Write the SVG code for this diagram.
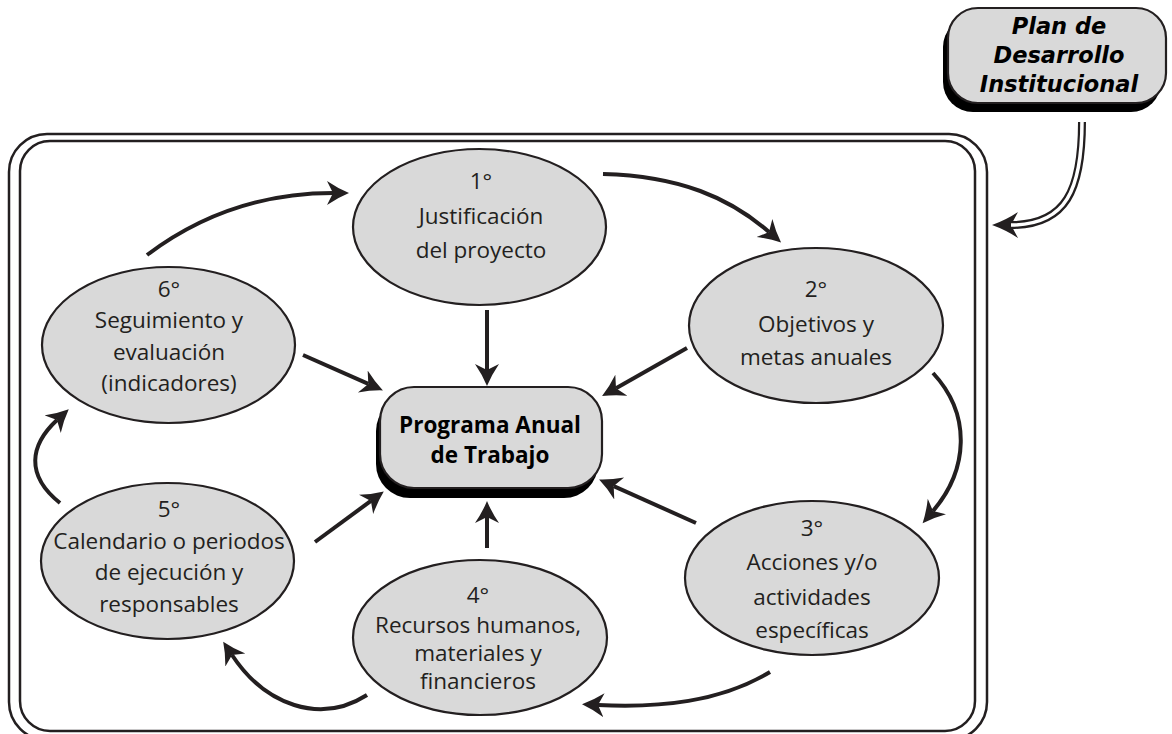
<svg xmlns="http://www.w3.org/2000/svg" width="1172" height="734" viewBox="0 0 1172 734">
  <style>
    .frame { fill: none; stroke: #231f20; stroke-width: 2.5; }
    .ell { fill: #d9d9d9; stroke: #231f20; stroke-width: 2.2; }
    .shadow { fill: #000; }
    .box { fill: #d9d9d9; stroke: #231f20; stroke-width: 2.2; }
    .lbl { font-family: "Open Sans", "Liberation Sans", sans-serif; font-size: 22.5px; fill: #231f20; text-anchor: middle; }
    .main { font-family: "Open Sans", "Liberation Sans", sans-serif; font-size: 22.5px; font-weight: bold; fill: #000; text-anchor: middle; }
    .plan { font-family: "DejaVu Sans", "Liberation Sans", sans-serif; font-size: 22.5px; font-weight: bold; font-style: italic; fill: #000; text-anchor: middle; }
    .arrow { fill: none; stroke: #231f20; stroke-width: 4; marker-end: url(#ah); }
  </style>
  <defs>
    <marker id="ah" markerUnits="userSpaceOnUse" markerWidth="26" markerHeight="26" refX="6" refY="12" orient="auto">
      <path d="M0,0 Q11,7.5 22,12 Q11,16.5 0,24 L6,12 Z" fill="#231f20"/>
    </marker>
    <marker id="ah2" markerUnits="userSpaceOnUse" markerWidth="30" markerHeight="30" refX="7" refY="13" orient="auto">
      <path d="M0,0 Q12,8 26,13 Q12,18 0,26 L7,13 Z" fill="#231f20"/>
    </marker>
  </defs>

  <!-- double rounded frame -->
  <g id="frame">
    <rect class="frame" x="9" y="134" width="978" height="606" rx="38"/>
    <rect class="frame" x="20" y="141" width="955" height="590" rx="30"/>
  </g>

  <!-- Plan de Desarrollo Institucional -->
  <g id="plan">
    <rect class="shadow" x="943" y="17" width="218" height="95" rx="30"/>
    <rect class="box" x="948" y="8" width="218" height="95" rx="30"/>
    <text class="plan" x="1059" y="34">Plan de</text>
    <text class="plan" x="1059" y="63">Desarrollo</text>
    <text class="plan" x="1059" y="92">Institucional</text>
  </g>

  <!-- Programa Anual de Trabajo -->
  <g id="programa">
    <rect class="shadow" x="376" y="397" width="222" height="101" rx="34"/>
    <rect class="box" x="380" y="387" width="222" height="101" rx="34"/>
    <text class="main" x="490" y="433">Programa Anual</text>
    <text class="main" x="490" y="463">de Trabajo</text>
  </g>

  <g id="n1">
    <ellipse class="ell" cx="479.5" cy="227" rx="126.5" ry="78"/>
    <text class="lbl" x="481" y="189">1°</text>
    <text class="lbl" x="481" y="224">Justificación</text>
    <text class="lbl" x="481" y="258">del proyecto</text>
  </g>

  <g id="n2">
    <ellipse class="ell" cx="816" cy="325.5" rx="127" ry="77.5"/>
    <text class="lbl" x="816" y="297">2°</text>
    <text class="lbl" x="816" y="332">Objetivos y</text>
    <text class="lbl" x="816" y="365">metas anuales</text>
  </g>

  <g id="n3">
    <ellipse class="ell" cx="812" cy="578" rx="127" ry="77"/>
    <text class="lbl" x="812" y="536">3°</text>
    <text class="lbl" x="812" y="570">Acciones y/o</text>
    <text class="lbl" x="812" y="605">actividades</text>
    <text class="lbl" x="812" y="638">específicas</text>
  </g>

  <g id="n4">
    <ellipse class="ell" cx="480" cy="637.5" rx="127" ry="77.5"/>
    <text class="lbl" x="478" y="603">4°</text>
    <text class="lbl" x="478" y="633">Recursos humanos,</text>
    <text class="lbl" x="478" y="661">materiales y</text>
    <text class="lbl" x="478" y="689">financieros</text>
  </g>

  <g id="n5">
    <ellipse class="ell" cx="167.5" cy="561" rx="126.5" ry="78"/>
    <text class="lbl" x="169" y="517">5°</text>
    <text class="lbl" x="169" y="549">Calendario o periodos</text>
    <text class="lbl" x="169" y="580">de ejecución y</text>
    <text class="lbl" x="169" y="612">responsables</text>
  </g>

  <g id="n6">
    <ellipse class="ell" cx="168.5" cy="345" rx="126.5" ry="78"/>
    <text class="lbl" x="169" y="297">6°</text>
    <text class="lbl" x="169" y="328">Seguimiento y</text>
    <text class="lbl" x="169" y="360">evaluación</text>
    <text class="lbl" x="169" y="391">(indicadores)</text>
  </g>

  <!-- connectors -->
  <g id="connectors">
    <!-- spokes into the central box -->
    <path class="arrow" d="M487,310 L487,370"/>
    <path class="arrow" d="M303,355 L368.3,383.9"/>
    <path class="arrow" d="M687,348 L616,388.2"/>
    <path class="arrow" d="M696,523 L613.7,486.1"/>
    <path class="arrow" d="M487,548 L487,517"/>
    <path class="arrow" d="M315,542 L370.9,500.9"/>
    <!-- cycle 1 to 6 -->
    <path class="arrow" d="M603,174 C680,176 730,198 769,232"/>
    <path class="arrow" d="M933,373 C972,415 968,470 933,511"/>
    <path class="arrow" d="M770,672 C720,702 660,708 598,705"/>
    <path class="arrow" d="M367,695 C320,725 265,705 232,655"/>
    <path class="arrow" d="M60,503 C25,475 30,445 57,420"/>
    <path class="arrow" d="M147,255 C200,215 262,193 333,193"/>
    <!-- double-line link from the institutional plan -->
    <path d="M1082,122 C1082,190 1066,225 1011,225" fill="none" stroke="#231f20" stroke-width="8" marker-end="url(#ah2)"/>
    <path d="M1082,121 C1082,190 1066,225 1011,225" fill="none" stroke="#fff" stroke-width="3.5"/>
  </g>
</svg>
